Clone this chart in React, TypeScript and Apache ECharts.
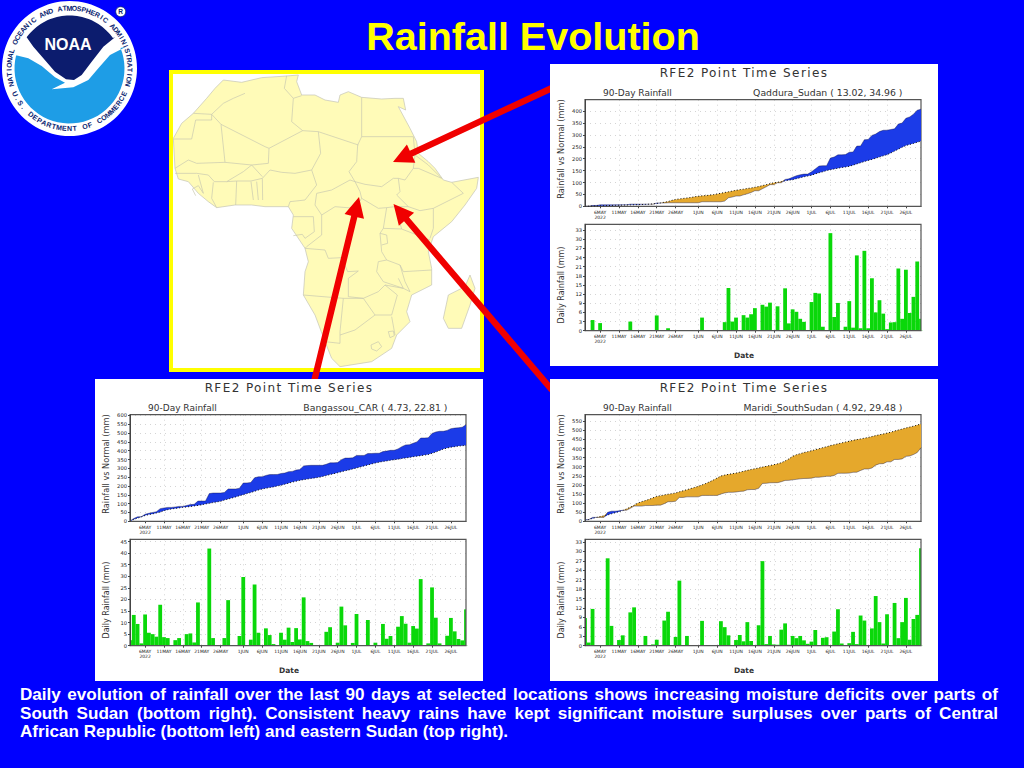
import React, { useEffect, useRef } from "react";
import * as echarts from "echarts";

const DAYS = ["2MAY","3MAY","4MAY","5MAY","6MAY","7MAY","8MAY","9MAY","10MAY","11MAY","12MAY","13MAY","14MAY","15MAY","16MAY","17MAY","18MAY","19MAY","20MAY","21MAY","22MAY","23MAY","24MAY","25MAY","26MAY","27MAY","28MAY","29MAY","30MAY","31MAY","1JUN","2JUN","3JUN","4JUN","5JUN","6JUN","7JUN","8JUN","9JUN","10JUN","11JUN","12JUN","13JUN","14JUN","15JUN","16JUN","17JUN","18JUN","19JUN","20JUN","21JUN","22JUN","23JUN","24JUN","25JUN","26JUN","27JUN","28JUN","29JUN","30JUN","1JUL","2JUL","3JUL","4JUL","5JUL","6JUL","7JUL","8JUL","9JUL","10JUL","11JUL","12JUL","13JUL","14JUL","15JUL","16JUL","17JUL","18JUL","19JUL","20JUL","21JUL","22JUL","23JUL","24JUL","25JUL","26JUL","27JUL","28JUL","29JUL","30JUL"];
const TICK_DAYS = ["6MAY","11MAY","16MAY","21MAY","26MAY","1JUN","6JUN","11JUN","16JUN","21JUN","26JUN","1JUL","6JUL","11JUL","16JUL","21JUL","26JUL"];

const QADDURA_RAIN = [0,0,3.5,3.5,6,6,6,6,6,6,6,6,9,9,9,9,9,9,9,14,14,14,14.8,14.8,14.8,14.8,14.8,14.8,14.8,14.8,14.8,19.1,19.1,19.1,19.1,19.1,19.1,21.9,35.9,38.9,43.2,43.2,48.3,52.6,58,65.4,65.4,73.9,81.8,91,91,99,99,112.9,115.3,122.3,128.5,132.4,135.3,135.3,144.7,157.1,169.3,170.6,170.6,202.6,207.1,216.2,216.2,217.5,227.2,228.2,252.9,253.7,279.9,280.7,297.9,303.9,313.9,319.5,320,322.7,325.5,345.9,349.8,369.8,375.6,386.7,404,408];
const QADDURA_NORMAL = [0,0.5,1,1.5,2,2.5,3,3.5,4,4.5,5,5.5,6,6.5,7,7.5,8,9,10,12,14,17,20,25,29,31,33,35,37,40,42,44,45,47,49,52,55,58,61,64,67,70,72,75,77,80,83,87,91,95,99,101,104,107,110,112,116,120,124,127,131,136,141,145,150,154,157,160,163,165,168,173,178,183,188,193,197,202,207,212,217,224,232,240,248,255,260,264,269,274];
const QADDURA_DAILY = [0,0,3.5,0,2.5,0,0,0,0,0,0,0,3,0,0,0,0,0,0,5,0,0,0.8,0,0,0,0,0,0,0,0,4.3,0,0,0,0,0,2.8,14,3,4.3,0,5.1,4.3,5.4,7.4,0,8.5,7.9,9.2,0,8,0,13.9,2.4,7,6.2,3.9,2.9,0,9.4,12.4,12.2,1.3,0,32,4.5,9.1,0,1.3,9.7,1,24.7,0.8,26.2,0.8,17.2,6,10,5.6,0.5,2.7,2.8,20.4,3.9,20,5.8,11.1,22.7,3.9];

const BANGASSOU_RAIN = [2.4,15.7,25.1,26.1,39.6,45.2,50.2,54.1,71.8,75.5,78.8,78.8,81.2,84.5,84.5,89.5,94.8,96.2,114.9,114.9,114.9,156.9,160.2,160.2,160.2,163.5,183.2,183.2,183.2,187.4,217.1,217.4,220,246.5,252.1,252.4,259.9,264.5,265.2,265.2,270.8,273.4,281.2,282.8,290.4,293.1,314,316,317.2,317.2,317.2,317.2,323.2,331.2,331.2,332.5,349.4,358.2,358.2,359.4,373.1,373.1,373.1,384.2,384.2,385.5,385.5,394.9,397.9,402.1,402.1,410.3,423.1,432.6,433.9,442.4,449.8,472,472,473,498,506,510,510,515,525,528,530,533,547];
const BANGASSOU_NORMAL = [2,10,18,25,33,38,42,47,52,60,66,70,73,76,79,81,84,87,90,94,98,102,106,110,113,120,126,132,138,145,151,157,163,170,177,183,187,191,195,200,204,210,216,222,227,232,236,239,243,246,249,254,259,265,270,275,281,286,291,297,302,308,314,319,325,330,335,339,342,346,349,352,356,359,362,366,369,372,375,378,385,392,401,409,415,420,423,426,428,431];
const BANGASSOU_DAILY = [2.4,13.3,9.4,1,13.5,5.6,5,3.9,17.7,3.7,3.3,0,2.4,3.3,0,5,5.3,1.4,18.7,0,0,42,3.3,0,0,3.3,19.7,0,0,4.2,29.7,0.3,2.6,26.5,5.6,0.3,7.5,4.6,0.7,0,5.6,2.6,7.8,1.6,7.6,2.7,20.9,2,1.2,0,0,0,6,8,0,1.3,16.9,8.8,0,1.2,13.7,0,0,11.1,0,1.3,0,9.4,3,4.2,0,8.2,12.8,9.5,1.3,8.5,7.4,28.8,0,1,25.2,12.1,1,0,4.3,12,6.2,2.9,2.3,15.7];

const MARIDI_RAIN = [8.8,9.8,21.5,21.5,21.5,21.5,49.3,55.6,55.6,57.4,60.7,60.7,71.3,83.5,83.5,83.5,86.6,86.6,87,88.9,88.9,96.9,107.7,107.7,110.5,131.2,131.2,134.3,134.3,134.3,134.3,142.2,142.2,142.2,142.2,142.2,150,155.9,159.2,159.2,161,164.4,165.8,173.3,174.8,174.8,181.3,208.2,208.7,211.8,212.2,212.5,217.6,224.7,225,228.1,230.5,233.6,235.3,235.9,237.2,242.2,242.2,244.7,247.4,247.4,251.9,263.5,264.2,264.2,265,269.4,269.9,279.5,287.5,287.5,293,308.8,316.3,317,327,327,340,340,343,357,359,367,378,405];
const MARIDI_NORMAL = [4,10,16,21,26,30,35,41,47,53,59,68,78,88,100,108,114,121,129,137,141,145,149,152,156,162,168,174,180,186,192,200,208,217,227,238,249,254,258,262,265,270,275,280,285,289,293,298,302,307,311,316,322,332,343,357,366,372,378,383,388,394,399,405,410,416,421,426,431,436,440,445,449,453,457,461,466,471,476,480,485,490,496,502,507,513,518,523,529,535];
const MARIDI_DAILY = [8.8,1,11.7,0,0,0,27.8,6.3,0,1.8,3.3,0,10.6,12.2,0,0,3.1,0,0.4,1.9,0,8,10.8,0,2.8,20.7,0,3.1,0,0,0,7.9,0,0,0,0,7.8,5.9,3.3,0,1.8,3.4,1.4,7.5,1.5,0,6.5,26.9,0.5,3.1,0.4,0.3,5.1,7.1,0.3,3.1,2.4,3.1,1.7,0.6,1.3,5,0,2.5,2.7,0,4.5,11.6,0.7,0,0.8,4.4,0.5,9.6,8,0,5.5,15.8,7.5,0.7,10,0,13.6,2.4,7.5,15.2,1.9,8.5,9.8,31];

const TITLE = "Rainfall Evolution";
const CHART_TITLE = "RFE2 Point Time Series";
const SUBTITLE = "90-Day Rainfall";
const DATE_TITLE = "Date";
const TOP_Y_TITLE = "Rainfall vs Normal (mm)";
const LOW_Y_TITLE = "Daily Rainfall (mm)";
const CAPTION_LINES = [
  "Daily evolution of rainfall over the last 90 days at selected locations shows increasing moisture deficits over parts of",
  "South Sudan (bottom right). Consistent heavy rains have kept significant moisture surpluses over parts of Central",
  "African Republic (bottom left) and eastern Sudan (top right).",
];
const LOGO_TOP = "NATIONAL OCEANIC AND ATMOSPHERIC ADMINISTRATION";
const LOGO_BOTTOM = "U.S. DEPARTMENT OF COMMERCE";

const BG = "#0000FF";
const GREEN = "#0AD80A";
const SURPLUS = "#1B3BE8";
const DEFICIT = "#E5A82C";
const INK = "#333";
const FONT = "DejaVu Sans";
const CAPTION_SIZE = 17.1;

const PANELS = [
  { x: 550, y: 64, place: "Qaddura_Sudan ( 13.02, 34.96 )", rain: QADDURA_RAIN, normal: QADDURA_NORMAL, daily: QADDURA_DAILY, topMax: 448, topStep: 50, lowMax: 34.9, lowStep: 3 },
  { x: 95, y: 379, place: "Bangassou_CAR ( 4.73, 22.81 )", rain: BANGASSOU_RAIN, normal: BANGASSOU_NORMAL, daily: BANGASSOU_DAILY, topMax: 604, topStep: 50, lowMax: 46, lowStep: 5 },
  { x: 550, y: 379, place: "Maridi_SouthSudan ( 4.92, 29.48 )", rain: MARIDI_RAIN, normal: MARIDI_NORMAL, daily: MARIDI_DAILY, topMax: 586, topStep: 50, lowMax: 33.85, lowStep: 3 },
];
const PLOT_ROWS = [[35.7, 106.6], [160.3, 106.4]];
const PLOT_LEFT = 35;
const PLOT_WIDTH = 336;

/* Map outlines, in pixels of a 3x view whose origin is (165,65) */
const AFRICA = [[365,33],[400,30],[395,50],[410,90],[450,90],[480,105],[520,112],[525,90],[550,80],[590,97],[650,102],[690,100],[715,100],[722,135],[700,125],[735,190],[755,230],[760,265],[790,290],[810,310],[835,345],[860,352],[940,337],[935,370],[900,420],[860,470],[805,515],[790,560],[800,610],[800,660],[740,690],[725,740],[735,770],[695,810],[680,850],[620,890],[525,905],[500,880],[480,830],[450,750],[415,690],[420,620],[430,590],[420,550],[380,490],[385,450],[370,425],[300,425],[260,420],[210,420],[155,428],[130,410],[100,385],[70,350],[40,342],[30,310],[25,220],[50,175],[85,145],[125,100],[150,70],[175,45],[230,52],[290,38]];
const MADAGASCAR = [[915,630],[930,670],[915,720],[890,790],[850,790],[835,760],[850,690],[900,665]];
const BORDERS = [
  [[240,85],[205,100],[175,115],[140,148]],[[85,145],[140,148]],[[140,148],[140,165],[92,165],[80,222],[25,222]],
  [[140,148],[168,178],[180,292],[95,295],[70,285],[30,310]],[[168,178],[300,245]],[[300,245],[312,250],[413,197]],
  [[365,32],[358,70],[385,100],[380,170],[413,197]],[[385,100],[410,92]],[[413,197],[460,200]],[[460,200],[580,240]],
  [[590,97],[590,215],[578,240]],[[590,215],[745,215]],[[312,250],[310,295],[260,300]],[[460,200],[467,265],[440,315]],
  [[440,315],[390,325],[350,322],[315,315],[292,340],[293,405]],[[180,292],[260,300],[292,335]],[[260,300],[235,320],[185,350],[148,350],[130,330],[95,325],[30,325]],
  [[440,315],[455,360],[420,405],[375,410],[370,425]],[[258,350],[265,405]],[[275,350],[280,405]],[[185,350],[215,348],[258,348],[292,340]],[[215,348],[212,420]],
  [[145,352],[140,400],[155,428]],[[100,330],[115,385],[100,362],[82,372],[92,392]],
  [[455,385],[500,375],[555,345],[570,350]],[[578,240],[575,290],[552,320],[570,350]],[[455,385],[450,420],[470,450]],
  [[470,450],[510,425],[570,430],[590,400]],[[570,350],[585,380],[590,400]],[[570,350],[600,358],[650,365],[685,340],[700,340],[705,380]],
  [[745,215],[750,270],[745,310],[720,345],[700,340]],[[750,270],[790,300],[830,340],[760,310],[745,310]],[[705,380],[695,390],[730,425],[765,437],[805,430],[895,385],[860,352]],
  [[805,430],[805,490],[795,520]],[[590,400],[640,430],[665,428],[690,425],[730,425]],[[665,428],[655,490],[710,492],[695,440]],[[710,492],[795,525]],
  [[655,490],[645,505],[650,560],[665,585],[640,590],[635,620],[655,650]],[[645,505],[665,510],[668,535],[650,540]],[[715,620],[800,615]],[[665,585],[705,600],[715,620]],
  [[705,600],[720,650],[735,680],[715,670],[700,640]],[[420,550],[480,555],[490,580],[530,578],[548,620],[580,618]],[[580,618],[550,640],[550,695],[595,700]],
  [[415,690],[535,700],[595,700]],[[595,700],[640,680],[660,660],[715,670],[655,650]],[[595,700],[630,750],[680,750],[697,690],[660,660]],
  [[535,700],[525,800],[525,835],[480,830]],[[630,750],[570,795],[525,810]],[[680,755],[690,810]],[[618,840],[640,830],[650,845],[635,858],[620,852],[618,840]],
  [[670,800],[685,798],[688,812],[675,818],[670,800]],[[385,455],[445,455],[448,500],[420,520],[412,508],[385,512]],[[470,450],[470,510],[425,545],[420,550]],
];
const ARROWS = [
  { from: [552, 88], tip: [393, 162] },
  { from: [552, 390], tip: [393.5, 204] },
  { from: [313, 386], tip: [359, 197] },
];
const LOGO_CENTER = [69.5, 68.5];

const FRAME = (p: number[]) => [165 + p[0] / 3, 65 + p[1] / 3];
const ZOOM8 = (p: number[]) => [p[0] / 3, p[1] / 3];

function arrow(from: number[], tip: number[]) {
  const dx = tip[0] - from[0], dy = tip[1] - from[1];
  const len = Math.hypot(dx, dy), ux = dx / len, uy = dy / len, nx = -uy, ny = ux;
  const hl = 20, hw = 10, sw = 3.2;
  const bx = tip[0] - ux * hl, by = tip[1] - uy * hl;
  return [
    [from[0] + nx * sw, from[1] + ny * sw], [bx + nx * sw, by + ny * sw], [bx + nx * hw, by + ny * hw], tip,
    [bx - nx * hw, by - ny * hw], [bx - nx * sw, by - ny * sw], [from[0] - nx * sw, from[1] - ny * sw],
  ];
}

function arcPoints(r: number, a0: number, a1: number, n = 40) {
  const pts: number[][] = [];
  for (let i = 0; i <= n; i++) {
    const a = ((a0 + ((a1 - a0) * i) / n) * Math.PI) / 180;
    pts.push([LOGO_CENTER[0] + r * Math.sin(a), LOGO_CENTER[1] - r * Math.cos(a)]);
  }
  return pts;
}

function ringText(text: string, r: number, a0: number, a1: number, flip: boolean) {
  const chars = text.split("");
  return chars.map((ch, i) => {
    const a = a0 + ((a1 - a0) * i) / (chars.length - 1);
    const rad = (a * Math.PI) / 180;
    return {
      type: "text", z: 5,
      x: LOGO_CENTER[0] + r * Math.sin(rad), y: LOGO_CENTER[1] - r * Math.cos(rad),
      rotation: flip ? -rad + Math.PI : -rad,
      style: { text: ch, fill: "#0a2470", fontSize: 7, fontFamily: "Liberation Sans", fontWeight: "bold", align: "center", verticalAlign: "middle" },
    };
  });
}

function label(text: string, x: number, y: number, o: any = {}, rotation = 0) {
  return { type: "text", z: 5, x, y, rotation, style: { text, fill: INK, fontFamily: FONT, fontSize: 9, align: "left", verticalAlign: "middle", ...o } };
}

function buildOption() {
  const grid: any[] = [], xAxis: any[] = [], yAxis: any[] = [], tickAxes: any[] = [], series: any[] = [];
  const dotted = { show: true, showMinLine: false, showMaxLine: false, lineStyle: { color: "#d4d4d4", type: [1, 4], width: 1 } };
  const isTick = (_: number, v: string) => TICK_DAYS.includes(v);
  PANELS.forEach((p, k) => {
    PLOT_ROWS.forEach(([t, h], j) => {
      const index = k * 2 + j;
      grid.push({ left: p.x + PLOT_LEFT, width: PLOT_WIDTH, top: p.y + t, height: h, show: false });
      xAxis.push({
        type: "category", gridIndex: index, data: DAYS, boundaryGap: false,
        axisLine: { lineStyle: { color: "#444", width: 1 } },
        axisTick: { show: true, length: 2, interval: isTick, lineStyle: { color: "#444" } },
        axisLabel: { interval: isTick, fontSize: 4.5, lineHeight: 5.5, margin: 3, color: "#222", fontFamily: FONT, hideOverlap: false,
          formatter: (v: string) => (v === "6MAY" ? "6MAY\n2022" : v) },
        splitLine: { ...dotted, interval: isTick },
      });
      const max = j === 0 ? p.topMax : p.lowMax, step = j === 0 ? p.topStep : p.lowStep;
      // this axis holds the dotted lines, under the marks
      yAxis.push({
        type: "value", gridIndex: index, min: 0, max, interval: step,
        axisLine: { show: false }, axisTick: { show: false }, axisLabel: { show: false }, splitLine: dotted,
      });
      // and this one the ticks and their labels, over the frame's white strips
      tickAxes.push({
        type: "value", gridIndex: index, position: "left", min: 0, max, interval: step, z: 4,
        axisLine: { show: true, lineStyle: { color: "#444", width: 1 } },
        axisTick: { show: true, length: 2, lineStyle: { color: "#444" } },
        axisLabel: { fontSize: 5.2, margin: 3, color: "#222", fontFamily: FONT, showMaxLabel: false,
          formatter: (v: number) => (v % step === 0 ? String(v) : "") },
        splitLine: { show: false },
      });
    });
    const top = k * 2, low = k * 2 + 1, stack = "band" + k;
    const area = (name: string, data: number[], color: string | null) => ({
      type: "line", name, xAxisIndex: top, yAxisIndex: top, stack, data, showSymbol: false, silent: true,
      lineStyle: { width: 0 }, areaStyle: color ? { color, opacity: 1 } : { opacity: 0 },
    });
    series.push(area("base" + k, p.rain.map((r, i) => Math.min(r, p.normal[i])), null));
    series.push(area("surplus" + k, p.rain.map((r, i) => Math.max(r - p.normal[i], 0)), SURPLUS));
    series.push(area("deficit" + k, p.rain.map((r, i) => Math.max(p.normal[i] - r, 0)), DEFICIT));
    series.push({ type: "line", name: "rain" + k, xAxisIndex: top, yAxisIndex: top, data: p.rain, showSymbol: false, lineStyle: { width: 0.6, color: "rgba(10,10,60,0.65)" } });
    series.push({ type: "line", name: "normal" + k, xAxisIndex: top, yAxisIndex: top, data: p.normal, showSymbol: false, lineStyle: { width: 1, color: "#111", type: [1, 2] } });
    series.push({ type: "bar", name: "daily" + k, xAxisIndex: low, yAxisIndex: low, data: p.daily, barWidth: 3.8, itemStyle: { color: GREEN } });
  });

  const elements: any[] = [
    { type: "rect", z: -5, shape: { x: 0, y: 0, width: 1024, height: 768 }, style: { fill: BG } },
    { type: "rect", z: -4, shape: { x: 171, y: 72, width: 311, height: 298 }, style: { fill: "#fff", stroke: "#FFFF00", lineWidth: 4 } },
    { type: "polygon", z: -4, shape: { points: AFRICA.map(FRAME) }, style: { fill: "#FFFBB8", stroke: "#c4c4b8", lineWidth: 0.7 } },
    { type: "polygon", z: -4, shape: { points: MADAGASCAR.map(FRAME) }, style: { fill: "#FFFBB8", stroke: "#c4c4b8", lineWidth: 0.7 } },
    ...BORDERS.map((b) => ({ type: "polyline", z: -4, shape: { points: b.map(FRAME) }, style: { fill: "none", stroke: "#c8c8b0", lineWidth: 0.7 } })),
    ...ARROWS.map((a) => ({ type: "polygon", z: -3, shape: { points: arrow(a.from, a.tip) }, style: { fill: "#F00000" } })),
    { type: "circle", z: 4, shape: { cx: LOGO_CENTER[0], cy: LOGO_CENTER[1], r: 67.5 }, style: { fill: "#fff" } },
    { type: "polygon", z: 4, shape: { points: [...[[378,140],[330,165],[295,205],[265,240],[220,262],[155,268],[195,248],[165,232],[125,198],[85,175],[45,165]].map(ZOOM8), ...arcPoints(55, 284, 68)] }, style: { fill: "#1E9DE6" } },
    { type: "polygon", z: 4, shape: { points: [...arcPoints(53, -55, 55), ...[[345,112],[310,140],[275,185],[245,225],[222,240],[198,238],[165,215],[130,175],[100,140],[80,112]].map(ZOOM8)] }, style: { fill: "#0C1C6E" } },
    { type: "text", z: 5, x: 68, y: 44, style: { text: "NOAA", fill: "#fff", fontSize: 16, fontFamily: "Liberation Sans", fontWeight: "bold", align: "center", verticalAlign: "middle" } },
    ...ringText(LOGO_TOP, 60.5, -105, 105, false),
    ...ringText(LOGO_BOTTOM, 60, 245, 115, true),
    { type: "circle", z: 4, shape: { cx: 120.7, cy: 11.7, r: 5 }, style: { fill: "#fff", stroke: "#0a2470", lineWidth: 0.8 } },
    { type: "text", z: 5, x: 120.7, y: 11.7, style: { text: "R", fill: "#0a2470", fontSize: 6.5, fontFamily: "Liberation Sans", fontWeight: "bold", align: "center", verticalAlign: "middle" } },
    { type: "text", z: 5, x: 533, y: 36, style: { text: TITLE, fill: "#FFFF00", fontSize: 39.5, fontFamily: "Liberation Sans", fontWeight: "bold", align: "center", verticalAlign: "middle" } },
    ...CAPTION_LINES.map((t, i) => ({ type: "text", z: 5, x: 20, y: 694.5 + i * 18.5, style: { text: t, fill: "#fff", fontSize: CAPTION_SIZE, fontFamily: "Liberation Sans", fontWeight: "bold", align: "left", verticalAlign: "middle" } })),
  ];
  PANELS.forEach((p) => {
    elements.push({ type: "rect", z: -2, shape: { x: p.x, y: p.y, width: 388, height: 302 }, style: { fill: "#fff" } });
    elements.push(label(CHART_TITLE, p.x + 194, p.y + 9, { fontSize: 12, align: "center" }));
    elements.push(label(SUBTITLE, p.x + 53, p.y + 28.5));
    elements.push(label(p.place, p.x + 352.5, p.y + 28.5, { align: "right", fontSize: 9.3 }));
    elements.push(label(DATE_TITLE, p.x + 194, p.y + 291.7, { align: "center", fontSize: 7.5, fontWeight: "bold" }));
    elements.push(label(TOP_Y_TITLE, p.x + 11, p.y + 85, { align: "center", fontSize: 8.2 }, Math.PI / 2));
    elements.push(label(LOW_Y_TITLE, p.x + 11, p.y + 221, { align: "center", fontSize: 8 }, Math.PI / 2));
    PLOT_ROWS.forEach(([t, h]) => {
      const left = p.x + PLOT_LEFT, top = p.y + t;
      // the bars at both ends are cut at the frame, half of their width being outside
      elements.push({ type: "rect", z: 3, shape: { x: left - 2.2, y: top, width: 2.2, height: h }, style: { fill: "#fff" } });
      elements.push({ type: "rect", z: 3, shape: { x: left + PLOT_WIDTH, y: top, width: 2.2, height: h }, style: { fill: "#fff" } });
      elements.push({ type: "rect", z: 3, shape: { x: left, y: top, width: PLOT_WIDTH, height: h }, style: { fill: "none", stroke: "#555", lineWidth: 1.2 } });
    });
  });
  return { animation: false, backgroundColor: BG, grid, xAxis, yAxis: [...yAxis, ...tickAxes], series, graphic: { elements } };
}

export default function App() {
  const ref = useRef<HTMLDivElement>(null);
  useEffect(() => {
    document.body.style.margin = "0";
    const chart = echarts.init(ref.current!, undefined, { renderer: "svg" });
    chart.setOption(buildOption() as any);
    // stretch the first two caption lines so that they end at the right margin
    const ctx = document.createElement("canvas").getContext("2d")!;
    ctx.font = `bold ${CAPTION_SIZE}px 'Liberation Sans'`;
    ref.current!.querySelectorAll("text").forEach((el) => {
      const t = el.textContent || "";
      const i = CAPTION_LINES.indexOf(t);
      if (i === 0 || i === 1) {
        const gaps = t.split(" ").length - 1;
        el.setAttribute("word-spacing", String((978 - ctx.measureText(t).width) / gaps));
      }
      if (t === CHART_TITLE) el.setAttribute("letter-spacing", "1.4");
    });
    return () => chart.dispose();
  }, []);
  return <div ref={ref} style={{ position: "fixed", left: 0, top: 0, width: 1024, height: 768 }} />;
}
